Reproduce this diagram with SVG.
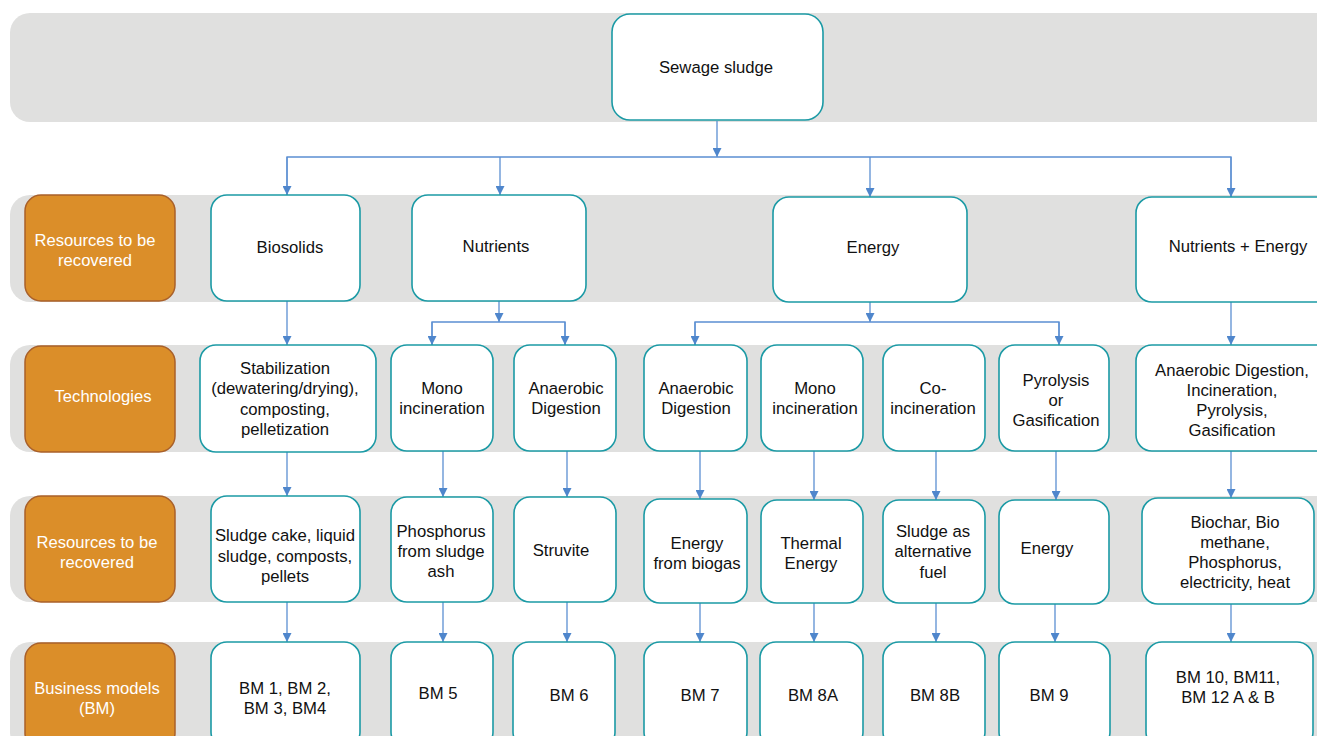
<svg xmlns="http://www.w3.org/2000/svg" width="1317" height="736" viewBox="0 0 1317 736">
<style>
.band{fill:#e0e0df}
.lab{fill:#db8e29;stroke:#a9602a;stroke-width:1.5}
.node{fill:#ffffff;stroke:#1b9aa5;stroke-width:1.6}
.t{font-family:"Liberation Sans",Arial,sans-serif;font-size:16.7px;fill:#111;text-anchor:middle}
.w{font-family:"Liberation Sans",Arial,sans-serif;font-size:16.6px;fill:#ffffff;text-anchor:middle}
.c{fill:none;stroke:#5b8fd2;stroke-width:1.3}
.a{marker-end:url(#ah)}
</style>
<defs>
<marker id="ah" viewBox="0 0 10 10" refX="10" refY="5" markerWidth="9" markerHeight="9" orient="auto" markerUnits="userSpaceOnUse">
<path d="M0,0 L10,5 L0,10 z" fill="#4f86cc"/>
</marker>
</defs>
<rect width="1317" height="736" fill="#ffffff"/>
<g id="bands">
<rect class="band" x="10" y="13" width="1340" height="109" rx="20"/>
<rect class="band" x="10" y="195" width="1340" height="107" rx="20"/>
<rect class="band" x="10" y="345" width="1340" height="107" rx="20"/>
<rect class="band" x="10" y="496" width="1340" height="106" rx="20"/>
<rect class="band" x="10" y="642" width="1340" height="110" rx="20"/>
</g>
<g id="row-labels">
<g id="lab-resources1"><rect class="lab" x="25" y="195" width="150" height="106" rx="16"/><text class="w" x="95" y="246">Resources to be</text><text class="w" x="95" y="266">recovered</text></g>
<g id="lab-tech"><rect class="lab" x="25" y="346" width="150" height="106" rx="16"/><text class="w" x="103" y="402">Technologies</text></g>
<g id="lab-resources2"><rect class="lab" x="25" y="496" width="150" height="106" rx="16"/><text class="w" x="97" y="548">Resources to be</text><text class="w" x="97" y="568">recovered</text></g>
<g id="lab-bm"><rect class="lab" x="25" y="643" width="150" height="106" rx="16"/><text class="w" x="97" y="694">Business models</text><text class="w" x="97" y="714">(BM)</text></g>
</g>
<g id="connectors">
<line class="c a" x1="717" y1="121" x2="717" y2="157"/>
<polyline class="c" points="287,195 287,157 1231,157 1231,197"/>
<line class="c a" x1="287" y1="157" x2="287" y2="195"/>
<line class="c a" x1="500" y1="157" x2="500" y2="195"/>
<line class="c a" x1="870" y1="157" x2="870" y2="197"/>
<line class="c a" x1="1231" y1="157" x2="1231" y2="197"/>
<line class="c a" x1="287" y1="301" x2="287" y2="345"/>
<line class="c a" x1="499" y1="301" x2="499" y2="322"/>
<polyline class="c" points="432,345 432,322 565,322 565,345"/>
<line class="c a" x1="432" y1="322" x2="432" y2="345"/>
<line class="c a" x1="565" y1="322" x2="565" y2="345"/>
<line class="c a" x1="870" y1="302" x2="870" y2="322"/>
<polyline class="c" points="695,345 695,322 1059,322 1059,345"/>
<line class="c a" x1="695" y1="322" x2="695" y2="345"/>
<line class="c a" x1="1059" y1="322" x2="1059" y2="345"/>
<line class="c a" x1="1231" y1="302" x2="1231" y2="345"/>
<line class="c a" x1="287" y1="452" x2="287" y2="496"/>
<line class="c a" x1="443" y1="451" x2="443" y2="497"/>
<line class="c a" x1="567" y1="451" x2="567" y2="497"/>
<line class="c a" x1="700" y1="451" x2="700" y2="499"/>
<line class="c a" x1="814" y1="451" x2="814" y2="500"/>
<line class="c a" x1="936" y1="451" x2="936" y2="500"/>
<line class="c a" x1="1056" y1="451" x2="1056" y2="500"/>
<line class="c a" x1="1231" y1="451" x2="1231" y2="498"/>
<line class="c a" x1="287" y1="602" x2="287" y2="642"/>
<line class="c a" x1="443" y1="602" x2="443" y2="642"/>
<line class="c a" x1="567" y1="602" x2="567" y2="642"/>
<line class="c a" x1="700" y1="603" x2="700" y2="642"/>
<line class="c a" x1="814" y1="603" x2="814" y2="642"/>
<line class="c a" x1="936" y1="603" x2="936" y2="642"/>
<line class="c a" x1="1055" y1="604" x2="1055" y2="642"/>
<line class="c a" x1="1231" y1="604" x2="1231" y2="642"/>
</g>
<g id="n-sewage"><rect class="node" x="612" y="14" width="211" height="106" rx="18"/><text class="t" x="716" y="73">Sewage sludge</text></g>
<g id="n-biosolids"><rect class="node" x="211" y="195" width="149" height="106" rx="16"/><text class="t" x="290" y="253">Biosolids</text></g>
<g id="n-nutrients"><rect class="node" x="412" y="195" width="174" height="106" rx="16"/><text class="t" x="496" y="252">Nutrients</text></g>
<g id="n-energy"><rect class="node" x="773" y="197" width="194" height="105" rx="16"/><text class="t" x="873" y="253">Energy</text></g>
<g id="n-nutenergy"><rect class="node" x="1136" y="197" width="200" height="105" rx="16"/><text class="t" x="1238" y="252">Nutrients + Energy</text></g>
<g id="n-stab"><rect class="node" x="200" y="345" width="176" height="107" rx="16"/><text class="t" x="285" y="374">Stabilization</text><text class="t" x="285" y="394">(dewatering/drying),</text><text class="t" x="285" y="415">composting,</text><text class="t" x="285" y="435">pelletization</text></g>
<g id="n-mono1"><rect class="node" x="391" y="345" width="102" height="106" rx="16"/><text class="t" x="442" y="394">Mono</text><text class="t" x="442" y="414">incineration</text></g>
<g id="n-ad1"><rect class="node" x="514" y="345" width="102" height="106" rx="16"/><text class="t" x="566" y="394">Anaerobic</text><text class="t" x="566" y="414">Digestion</text></g>
<g id="n-ad2"><rect class="node" x="644" y="345" width="103" height="106" rx="16"/><text class="t" x="696" y="394">Anaerobic</text><text class="t" x="696" y="414">Digestion</text></g>
<g id="n-mono2"><rect class="node" x="761" y="345" width="102" height="106" rx="16"/><text class="t" x="815" y="394">Mono</text><text class="t" x="815" y="414">incineration</text></g>
<g id="n-coinc"><rect class="node" x="883" y="345" width="102" height="106" rx="16"/><text class="t" x="933" y="394">Co-</text><text class="t" x="933" y="414">incineration</text></g>
<g id="n-pyro"><rect class="node" x="999" y="345" width="110" height="106" rx="16"/><text class="t" x="1056" y="386">Pyrolysis</text><text class="t" x="1056" y="406">or</text><text class="t" x="1056" y="426">Gasification</text></g>
<g id="n-adall"><rect class="node" x="1136" y="345" width="200" height="106" rx="16"/><text class="t" x="1232" y="376">Anaerobic Digestion,</text><text class="t" x="1232" y="396">Incineration,</text><text class="t" x="1232" y="416">Pyrolysis,</text><text class="t" x="1232" y="436">Gasification</text></g>
<g id="n-sludgecake"><rect class="node" x="211" y="496" width="149" height="106" rx="16"/><text class="t" x="285" y="541">Sludge cake, liquid</text><text class="t" x="285" y="562">sludge, composts,</text><text class="t" x="285" y="582">pellets</text></g>
<g id="n-phos"><rect class="node" x="391" y="497" width="102" height="105" rx="16"/><text class="t" x="441" y="537">Phosphorus</text><text class="t" x="441" y="557">from sludge</text><text class="t" x="441" y="577">ash</text></g>
<g id="n-struvite"><rect class="node" x="514" y="497" width="102" height="105" rx="16"/><text class="t" x="561" y="556">Struvite</text></g>
<g id="n-biogas"><rect class="node" x="644" y="499" width="103" height="104" rx="16"/><text class="t" x="697" y="549">Energy</text><text class="t" x="697" y="569">from biogas</text></g>
<g id="n-thermal"><rect class="node" x="761" y="500" width="102" height="103" rx="16"/><text class="t" x="811" y="549">Thermal</text><text class="t" x="811" y="569">Energy</text></g>
<g id="n-altfuel"><rect class="node" x="883" y="500" width="102" height="103" rx="16"/><text class="t" x="933" y="537">Sludge as</text><text class="t" x="933" y="557">alternative</text><text class="t" x="933" y="578">fuel</text></g>
<g id="n-energy2"><rect class="node" x="999" y="500" width="110" height="104" rx="16"/><text class="t" x="1047" y="554">Energy</text></g>
<g id="n-biochar"><rect class="node" x="1142" y="498" width="172" height="106" rx="16"/><text class="t" x="1235" y="528">Biochar, Bio</text><text class="t" x="1235" y="548">methane,</text><text class="t" x="1235" y="568">Phosphorus,</text><text class="t" x="1235" y="588">electricity, heat</text></g>
<g id="n-bm1"><rect class="node" x="211" y="642" width="149" height="106" rx="16"/><text class="t" x="285" y="694">BM 1, BM 2,</text><text class="t" x="285" y="714">BM 3, BM4</text></g>
<g id="n-bm5"><rect class="node" x="391" y="642" width="102" height="106" rx="16"/><text class="t" x="438" y="699">BM 5</text></g>
<g id="n-bm6"><rect class="node" x="513" y="642" width="102" height="106" rx="16"/><text class="t" x="569" y="701">BM 6</text></g>
<g id="n-bm7"><rect class="node" x="644" y="642" width="103" height="106" rx="16"/><text class="t" x="700" y="701">BM 7</text></g>
<g id="n-bm8a"><rect class="node" x="760" y="642" width="103" height="106" rx="16"/><text class="t" x="813" y="701">BM 8A</text></g>
<g id="n-bm8b"><rect class="node" x="883" y="642" width="102" height="106" rx="16"/><text class="t" x="935" y="701">BM 8B</text></g>
<g id="n-bm9"><rect class="node" x="999" y="642" width="111" height="106" rx="16"/><text class="t" x="1049" y="701">BM 9</text></g>
<g id="n-bm10"><rect class="node" x="1146" y="642" width="167" height="106" rx="16"/><text class="t" x="1228" y="683">BM 10, BM11,</text><text class="t" x="1228" y="703">BM 12 A &amp; B</text></g>
</svg>
